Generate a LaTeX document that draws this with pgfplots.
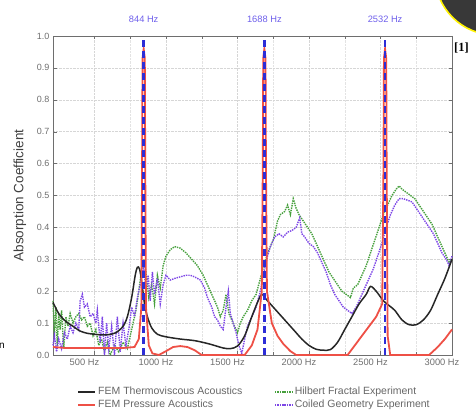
\documentclass[border=0pt]{standalone}
\usepackage{fontspec}
\setmainfont{Liberation Sans}
\newfontfamily\serif{Liberation Serif}
\usepackage{pgfplots}
\pgfplotsset{compat=1.18}

\definecolor{hilbert}{RGB}{70,160,60}
\definecolor{coiled}{RGB}{125,70,230}
\definecolor{pressure}{RGB}{238,80,70}
\definecolor{mode}{RGB}{45,45,215}
\definecolor{modetext}{RGB}{110,95,235}
\definecolor{axgray}{RGB}{110,110,110}

\begin{document}
\begin{tikzpicture}
\useasboundingbox (-53pt,-59pt) rectangle (423pt,355pt);
% corner badge of the source slide
\fill[black!78] (442pt,380pt) circle (60pt);
\draw[yellow, line width=1.6pt] (442pt,380pt) circle (60pt);
\node[anchor=west, inner sep=0pt, font=\serif\bfseries\fontsize{12.5}{14}\selectfont] at (401pt,307pt) {[1]};
\node[anchor=west, inner sep=0pt, font=\fontsize{10}{12}\selectfont] at (-54pt,9pt) {n};

\begin{axis}[
    at={(0,0)}, anchor=south west,
    scale only axis,
    width=399pt, height=319pt,
    xmin=210, xmax=3000,
    ymin=0, ymax=1,
    clip=false,
    axis line style={axgray},
    tick style={axgray},
    major tick length=3.5pt,
    xtick={500,1000,1500,2000,2500,3000},
    xticklabels={500 Hz,1000 Hz,1500 Hz,2000 Hz,2500 Hz,3000 Hz},
    minor x tick num=1,
    ytick={0,0.1,...,1.0},
    /pgf/number format/assume math mode=true,
    xticklabel style={xshift=-10pt, text=axgray, font=\fontsize{9.3}{11}\selectfont},
    yticklabel style={text=axgray, font=\fontsize{9}{11}\selectfont,
        /pgf/number format/fixed, /pgf/number format/fixed zerofill,
        /pgf/number format/precision=1},
    ylabel={Absorption Coefficient},
    ylabel shift=4pt,
    ylabel style={text=black!75, font=\fontsize{13.5}{15}\selectfont},
    grid=both,
    major grid style={black!16, densely dotted},
    minor grid style={black!11, densely dotted},
    legend columns=2,
    legend style={at={(0.505,-0.088)}, anchor=north, draw=none, fill=none,
        font=\fontsize{10.5}{12.5}\selectfont, text=black!60,
        /tikz/every even column/.append style={column sep=30pt},
        row sep=0pt},
    legend cell align=left,
]

% Hilbert fractal experiment
\addplot[hilbert, densely dotted, line width=1.4pt, forget plot] coordinates {
(210,0.17) (220,0.06) (230,0.15) (240,0.03) (250,0.13) (260,0.08) (270,0.14)
(285,0.02) (300,0.12) (315,0.09) (330,0.13) (350,0.10) (370,0.12) (390,0.13)
(410,0.11) (430,0.12) (450,0.09) (470,0.10) (490,0.06) (510,0.08) (530,0.03)
(550,0.05) (570,0.01) (590,0.04) (610,0.00) (640,0.03) (670,0.01) (700,0.04)
(730,0.02) (760,0.08) (790,0.14) (810,0.20) (830,0.27) (845,0.30) (860,0.26)
(880,0.18) (900,0.22) (920,0.16) (940,0.25) (960,0.21) (980,0.28) (1000,0.31)
(1030,0.33) (1060,0.34) (1100,0.335) (1140,0.32) (1180,0.30) (1220,0.28)
(1260,0.25) (1300,0.21) (1330,0.18) (1360,0.15) (1380,0.12) (1400,0.14)
(1420,0.19) (1440,0.13) (1460,0.11) (1480,0.09) (1500,0.07) (1520,0.10)
(1540,0.12) (1570,0.14) (1600,0.17) (1630,0.19) (1660,0.24) (1690,0.29)
(1720,0.33) (1750,0.36) (1780,0.42) (1800,0.44) (1830,0.45) (1850,0.47)
(1870,0.44) (1890,0.49) (1910,0.46) (1930,0.44) (1960,0.42) (1990,0.40)
(2020,0.38) (2050,0.35) (2080,0.32) (2110,0.29) (2140,0.26) (2170,0.24)
(2200,0.22) (2230,0.20) (2260,0.19) (2290,0.18) (2310,0.21) (2340,0.22)
(2370,0.25) (2400,0.28) (2430,0.32) (2460,0.36) (2490,0.40) (2520,0.44)
(2550,0.47) (2580,0.50) (2610,0.52) (2630,0.53) (2650,0.52) (2680,0.51)
(2710,0.50) (2740,0.49) (2770,0.47) (2800,0.45) (2830,0.43) (2860,0.41)
(2890,0.38) (2920,0.35) (2950,0.32) (2980,0.29) (3000,0.30)
};

% Coiled geometry experiment
\addplot[coiled, densely dotted, line width=1.4pt, forget plot] coordinates {
(210,0.03) (220,0.06) (235,0.01) (250,0.05) (270,0.02) (290,0.07) (310,0.05)
(330,0.09) (350,0.07) (370,0.10) (390,0.08) (400,0.17) (415,0.19) (430,0.15)
(450,0.16) (470,0.12) (490,0.13) (510,0.10) (520,0.14) (540,0.04) (555,0.12)
(570,0.00) (585,0.10) (600,0.02) (620,0.09) (640,0.00) (660,0.12) (680,0.01)
(700,0.10) (720,0.03) (740,0.08) (760,0.15) (780,0.12) (800,0.18) (820,0.22)
(844,0.28) (860,0.20) (875,0.25) (890,0.17) (905,0.26) (920,0.19) (940,0.24)
(960,0.16) (980,0.22) (1000,0.25) (1030,0.235) (1060,0.24) (1100,0.245)
(1140,0.25) (1170,0.25) (1200,0.245) (1240,0.235) (1270,0.21) (1290,0.18)
(1320,0.15) (1340,0.12) (1360,0.11) (1380,0.09) (1400,0.08) (1420,0.15)
(1436,0.20) (1450,0.13) (1470,0.10) (1490,0.07) (1510,0.03) (1530,0.005)
(1550,0.05) (1570,0.09) (1590,0.11) (1610,0.13) (1630,0.15) (1660,0.20)
(1690,0.27) (1710,0.31) (1730,0.34) (1760,0.37) (1790,0.38) (1820,0.37)
(1850,0.385) (1880,0.39) (1910,0.40) (1935,0.43) (1950,0.38) (1970,0.37)
(2000,0.35) (2030,0.34) (2060,0.32) (2090,0.29) (2120,0.26) (2150,0.22)
(2180,0.19) (2210,0.17) (2240,0.15) (2270,0.14) (2300,0.13) (2330,0.15)
(2360,0.18) (2390,0.21) (2420,0.24) (2450,0.27) (2480,0.31) (2510,0.35)
(2540,0.40) (2570,0.44) (2600,0.47) (2630,0.49) (2660,0.49) (2690,0.485)
(2720,0.48) (2750,0.46) (2780,0.44) (2810,0.42) (2840,0.40) (2870,0.38)
(2900,0.35) (2930,0.32) (2960,0.30) (2980,0.28) (3000,0.31)
};

% FEM thermoviscous acoustics
\addplot[black!85, line width=1.5pt, smooth, forget plot] coordinates {
(210,0.165) (250,0.13) (300,0.105) (350,0.09) (400,0.075) (450,0.068)
(500,0.065) (550,0.063) (600,0.064) (650,0.07) (700,0.09) (730,0.12)
(760,0.18) (785,0.25) (800,0.275) (815,0.27) (830,0.23) (850,0.16)
(870,0.12) (900,0.085) (940,0.065) (1000,0.057) (1100,0.05) (1200,0.045)
(1300,0.035) (1400,0.022) (1450,0.02) (1500,0.028) (1550,0.06) (1600,0.12)
(1640,0.165) (1670,0.19) (1700,0.175) (1750,0.15) (1800,0.125) (1850,0.1)
(1900,0.075) (1950,0.05) (2000,0.03) (2050,0.018) (2100,0.015) (2150,0.017)
(2200,0.04) (2250,0.08) (2300,0.12) (2350,0.16) (2400,0.19) (2430,0.215)
(2470,0.2) (2520,0.17) (2560,0.155) (2600,0.14) (2650,0.11) (2700,0.095)
(2750,0.095) (2800,0.11) (2850,0.14) (2900,0.19) (2950,0.24) (3000,0.30)
};

% FEM pressure acoustics
\addplot[pressure, line width=1.8pt, forget plot] coordinates {
(210,0.025) (300,0.022) (400,0.022) (500,0.022) (600,0.022) (700,0.022)
(780,0.025) (810,0.05) (828,0.15) (833,0.6) (836,0.93) (844,0.96) (852,0.93)
(855,0.6) (860,0.15) (880,0.03) (905,0.005) (950,0.0) (1000,0.012)
(1050,0.025) (1100,0.028) (1150,0.025) (1200,0.015) (1250,0.0) (1550,0.0)
(1600,0.03) (1640,0.08) (1670,0.2) (1677,0.6) (1680,0.93) (1688,0.96)
(1696,0.93) (1699,0.6) (1706,0.2) (1740,0.1) (1780,0.06) (1820,0.035)
(1870,0.012) (1910,0.0) (2270,0.0) (2320,0.03) (2370,0.06) (2420,0.09)
(2470,0.12) (2512,0.16) (2521,0.6) (2524,0.93) (2532,0.96) (2540,0.93)
(2543,0.6) (2550,0.06) (2568,0.0) (2840,0.0) (2900,0.025) (2950,0.05)
(3000,0.08)
};

% resonance markers
\addplot[mode, line width=2.6pt, dash pattern=on 7pt off 4pt, forget plot]
    coordinates {(844,0) (844,1.0)}
    node[pos=1, anchor=south, yshift=9pt, text=modetext, font=\fontsize{9.3}{10}\selectfont] {844 Hz};
\addplot[mode, line width=2.6pt, dash pattern=on 7pt off 4pt, forget plot]
    coordinates {(1688,0) (1688,1.0)}
    node[pos=1, anchor=south, yshift=9pt, text=modetext, font=\fontsize{9.3}{10}\selectfont] {1688 Hz};
\addplot[mode, line width=2.6pt, dash pattern=on 7pt off 4pt, forget plot]
    coordinates {(2532,0) (2532,1.0)}
    node[pos=1, anchor=south, yshift=9pt, text=modetext, font=\fontsize{9.3}{10}\selectfont] {2532 Hz};

\addlegendimage{black!85, line width=1.5pt}
\addlegendentry{FEM Thermoviscous Acoustics}
\addlegendimage{hilbert, densely dotted, line width=1.4pt}
\addlegendentry{Hilbert Fractal Experiment}
\addlegendimage{pressure, line width=1.8pt}
\addlegendentry{FEM Pressure Acoustics}
\addlegendimage{coiled, densely dotted, line width=1.4pt}
\addlegendentry{Coiled Geometry Experiment}
\end{axis}
\end{tikzpicture}
\end{document}
